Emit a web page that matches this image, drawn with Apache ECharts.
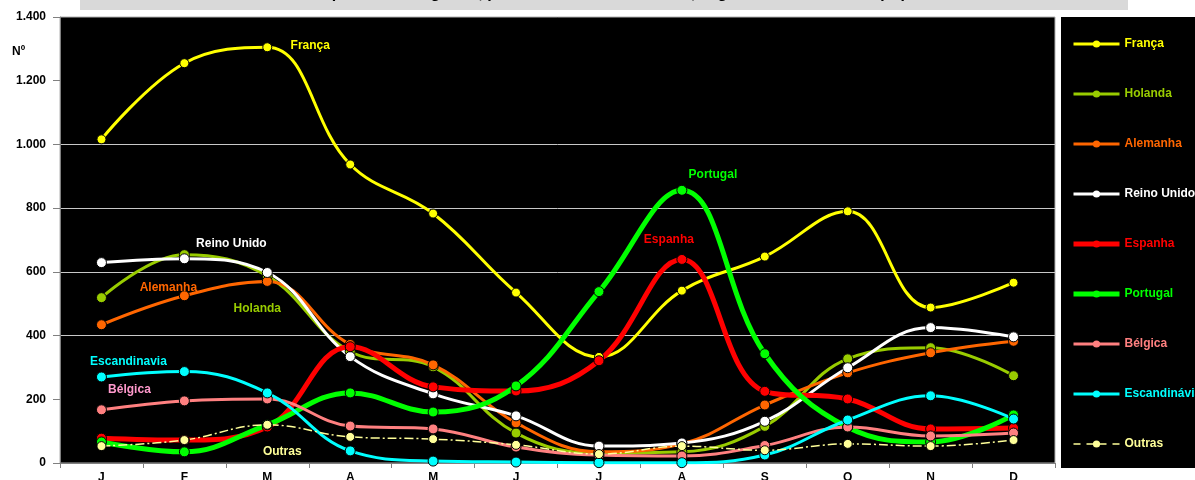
<!DOCTYPE html>
<html>
<head>
<meta charset="utf-8">
<script src="https://cdn.jsdelivr.net/npm/echarts@6/dist/echarts.min.js"></script>
<style>
  html, body { margin: 0; padding: 0; background: #ffffff; }
  #chart { width: 1195px; height: 480px; }
</style>
</head>
<body>
<div id="chart"></div>
<script>
// Month initials along the category axis
const months = ['J', 'F', 'M', 'A', 'M', 'J', 'J', 'A', 'S', 'O', 'N', 'D'];
// Value-axis ticks
const yTicks = [0, 200, 400, 600, 800, 1000, 1200, 1400];

// Monthly values per market
const franca       = [1016, 1255, 1305, 937, 783, 535, 333, 541, 648, 790, 488, 566];
const holanda      = [519, 654, 587, 350, 302, 94, 31, 35, 115, 327, 362, 274];
const alemanha     = [434, 525, 570, 372, 308, 126, 35, 60, 182, 283, 346, 382];
const reinoUnido   = [629, 641, 598, 334, 217, 148, 53, 63, 131, 299, 425, 396];
const espanha      = [78, 72, 113, 365, 239, 226, 321, 639, 225, 201, 107, 110];
const portugal     = [66, 35, 120, 220, 160, 242, 538, 856, 343, 112, 66, 151];
const belgica      = [167, 195, 201, 116, 107, 50, 25, 22, 55, 113, 85, 94];
const escandinavia = [270, 287, 220, 38, 6, 3, 1, 1, 25, 135, 211, 138];
const outras       = [53, 72, 120, 82, 75, 57, 28, 53, 40, 60, 53, 72];

const FONT = '"Liberation Sans", Arial, sans-serif';

// name, values, colour, line width, dash, in-plot label (text, anchor month index, anchor value, offset)
const seriesDefs = [
  { name: 'França', data: franca, color: '#ffff00', width: 3, label: { text: 'França', idx: 2, val: 1305, off: [43, -2] } },
  { name: 'Holanda', data: holanda, color: '#99cc00', width: 3, label: { text: 'Holanda', idx: 2, val: 587, off: [-10, 33] } },
  { name: 'Alemanha', data: alemanha, color: '#ff6600', width: 3, label: { text: 'Alemanha', idx: 1, val: 525, off: [-16, -8] } },
  { name: 'Reino Unido', data: reinoUnido, color: '#ffffff', width: 3, label: { text: 'Reino Unido', idx: 1, val: 641, off: [47, -15] } },
  { name: 'Espanha', data: espanha, color: '#ff0000', width: 5, label: { text: 'Espanha', idx: 7, val: 639, off: [-13, -20] } },
  { name: 'Portugal', data: portugal, color: '#00ff00', width: 5, label: { text: 'Portugal', idx: 7, val: 856, off: [31, -16] } },
  { name: 'Bélgica', data: belgica, color: '#ff8080', width: 3, label: { text: 'Bélgica', idx: 0, val: 167, off: [28, -20], color: '#ff99cc' } },
  { name: 'Escandinávia', data: escandinavia, color: '#00ffff', width: 3, label: { text: 'Escandinavia', idx: 0, val: 270, off: [27, -15] } },
  { name: 'Outras', data: outras, color: '#ffff99', width: 1.5, dash: [9, 3, 2, 3], label: { text: 'Outras', idx: 2, val: 120, off: [15, 27] } }
];

const series = seriesDefs.map(d => ({
  name: d.name,
  type: 'line',
  data: d.data,
  smooth: 0.4,
  symbol: 'circle',
  symbolSize: d.name === 'França' || d.name === 'Outras' ? 9 : 10,
  showSymbol: true,
  lineStyle: { color: d.color, width: d.width, type: d.dash || 'solid' },
  itemStyle: { color: d.color, borderColor: '#000000', borderWidth: 1 },
  emphasis: { disabled: true },
  markPoint: {
    symbol: 'circle',
    symbolSize: 0,
    silent: true,
    label: {
      show: true,
      position: 'inside',
      formatter: d.label.text,
      color: d.label.color || d.color,
      fontFamily: FONT,
      fontWeight: 'bold',
      fontSize: 12
    },
    data: [{ coord: [d.label.idx, d.label.val], label: { offset: d.label.off } }]
  }
}));

const chart = echarts.init(document.getElementById('chart'), null, { renderer: 'canvas' });

chart.setOption({
  animation: false,
  backgroundColor: '#ffffff',
  textStyle: { fontFamily: FONT },
  grid: {
    left: 60, right: 140, top: 17, bottom: 17,
    outerBoundsMode: 'none',
    containLabel: false,
    show: true,
    backgroundColor: '#000000',
    borderColor: '#b0b0b0',
    borderWidth: 1
  },
  xAxis: {
    type: 'category',
    data: months,
    boundaryGap: true,
    axisLine: { show: true, lineStyle: { color: '#808080', width: 1 } },
    axisTick: { show: true, length: 5, lineStyle: { color: '#808080' } },
    axisLabel: { color: '#000000', fontWeight: 'bold', fontSize: 12, margin: 9, fontFamily: FONT },
    splitLine: { show: false }
  },
  yAxis: {
    type: 'value',
    min: yTicks[0],
    max: yTicks[yTicks.length - 1],
    interval: 200,
    axisLine: { show: true, lineStyle: { color: '#808080', width: 1 } },
    axisTick: { show: true, length: 7, lineStyle: { color: '#808080' } },
    axisLabel: {
      color: '#000000', fontWeight: 'bold', fontSize: 12, margin: 14, fontFamily: FONT,
      formatter: v => String(v).replace(/\B(?=(\d{3})+(?!\d))/g, '.')
    },
    splitLine: {
      show: true,
      lineStyle: {
        width: 1,
        // gridlines only across the 400–1.000 band
        color: yTicks.map(v => (v >= 400 && v <= 1000 ? '#c8c8c8' : 'rgba(0,0,0,0)'))
      }
    }
  },
  legend: {
    orient: 'vertical',
    left: 1071,
    top: 38,
    padding: 0,
    itemWidth: 46,
    itemHeight: 9,
    itemGap: 38,
    textStyle: { fontFamily: FONT, fontSize: 12, fontWeight: 'bold' },
    data: seriesDefs.map(d => ({
      name: d.name,
      textStyle: { color: d.color },
      itemStyle: { color: d.color, borderWidth: 0 },
      lineStyle: { width: d.width, color: d.color, type: d.dash ? [7, 6] : 'solid' }
    })),
    selectedMode: false
  },
  graphic: [
    // title bar across the top
    {
      type: 'rect', left: 80, top: 0, z: -1,
      shape: { width: 1048, height: 10 },
      style: { fill: '#d9d9d9' }
    },
    {
      type: 'text', x: 604, y: 2, z: 0,
      style: {
        text: 'Hóspedes estrangeiros, por mercado de residência, segundo o mês do ano (Nº)',
        fill: '#000000', font: 'bold 16px ' + FONT,
        align: 'center', verticalAlign: 'bottom'
      }
    },
    // legend panel
    {
      type: 'rect', left: 1061, top: 17, z: -1,
      shape: { width: 140, height: 451 },
      style: { fill: '#000000' }
    },
    // value-axis unit
    {
      type: 'text', left: 12, top: 46,
      style: { text: 'Nº', fill: '#000000', font: 'bold 12px ' + FONT }
    }
  ],
  series: series
});
</script>
</body>
</html>
